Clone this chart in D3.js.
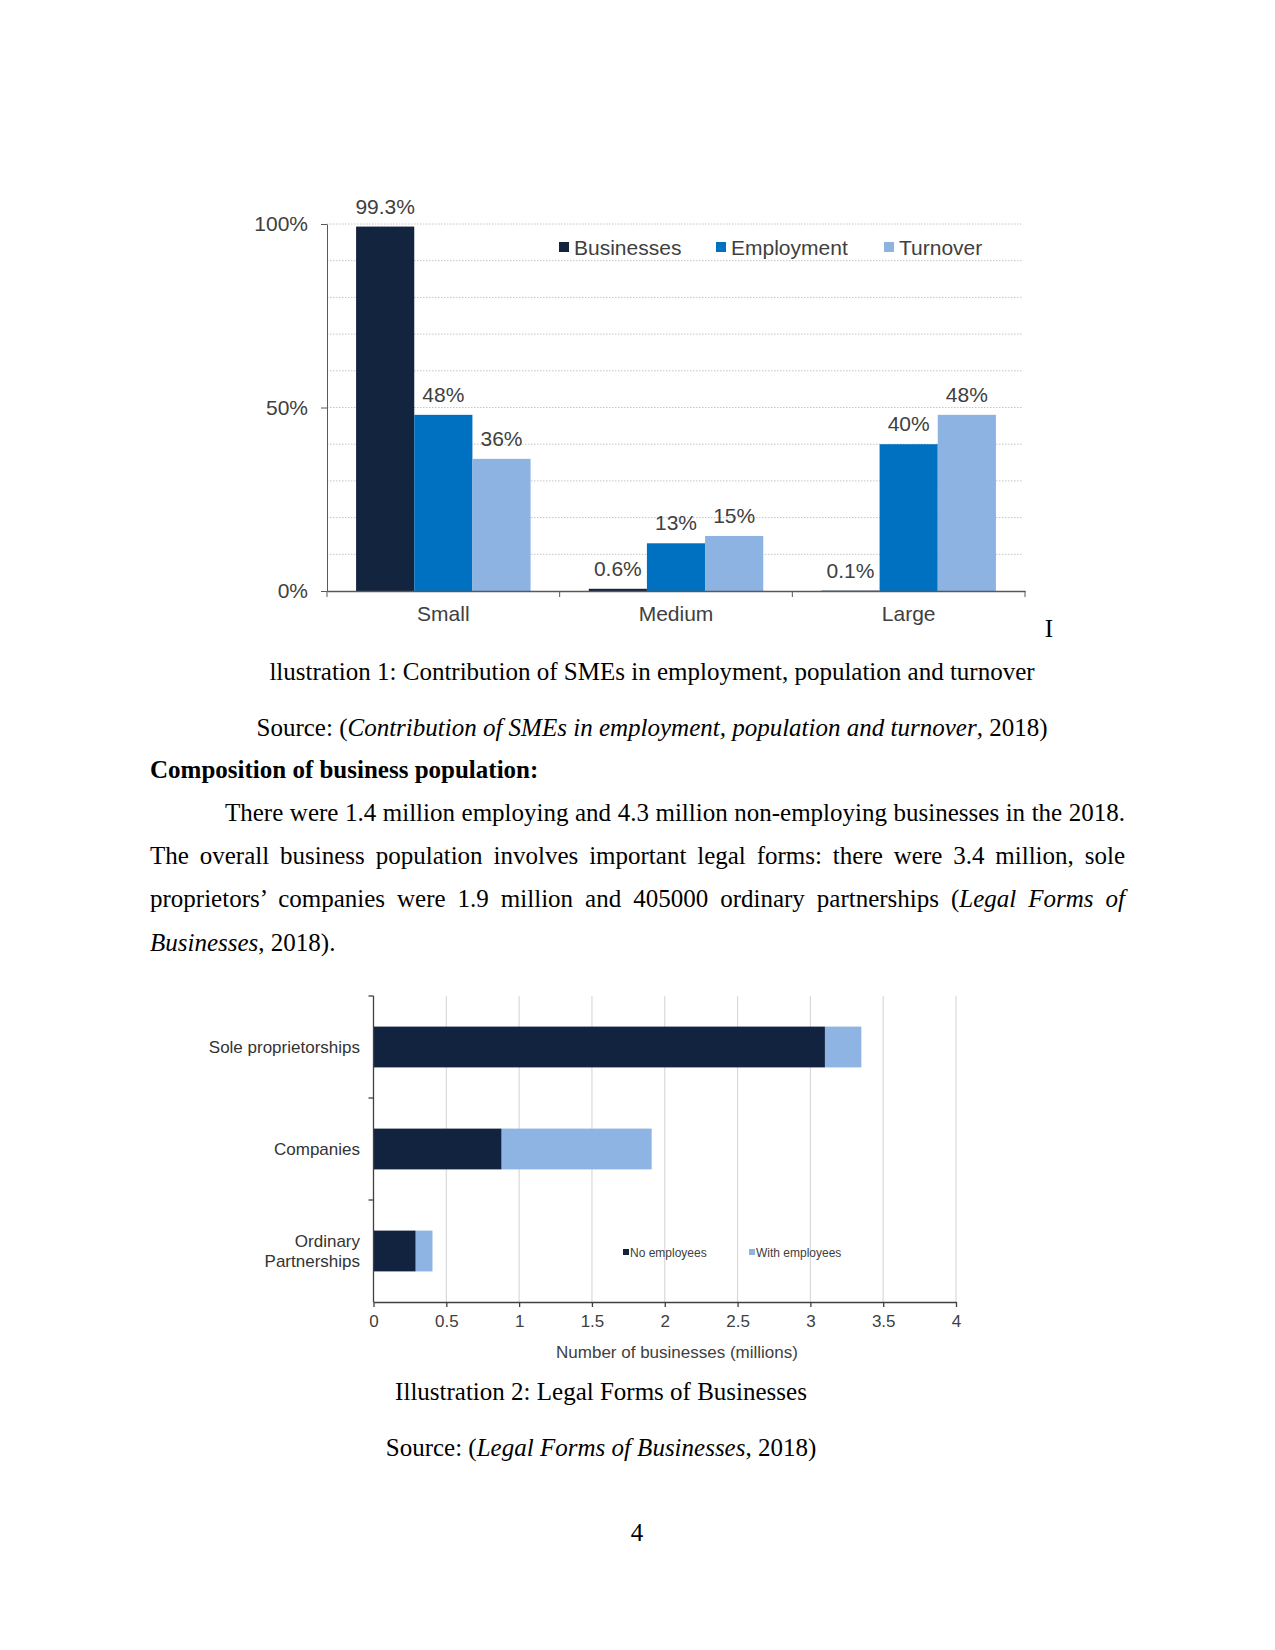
<!DOCTYPE html>
<html><head><meta charset="utf-8">
<script src="https://cdn.jsdelivr.net/npm/d3@7"></script>
<style>body{margin:0;background:#fff} svg{display:block}</style>
</head><body>
<svg id="page" width="1275" height="1650"></svg>
<script>
// ---------- Chart 1 data ----------
const categories1 = ["Small", "Medium", "Large"];
const series1 = ["Businesses", "Employment", "Turnover"];
const businessesShare = [99.3, 0.6, 0.1];
const employmentShare = [48, 13, 40];
const turnoverShare = [36, 15, 48];
const yTicks1 = [0, 50, 100];
const gridTicks1 = [10, 20, 30, 40, 50, 60, 70, 80, 90, 100];
const colors1 = ["#13243f", "#0070c0", "#8db3e2"];

// ---------- Chart 2 data ----------
const categories2 = ["Sole proprietorships", "Companies", "Ordinary Partnerships"];
const categoryLines2 = [["Sole proprietorships"], ["Companies"], ["Ordinary", "Partnerships"]];
const series2 = ["No employees", "With employees"];
const noEmployees = [3.1, 0.88, 0.29];
const withEmployees = [0.25, 1.03, 0.115];
const xTicks2 = [0, 0.5, 1, 1.5, 2, 2.5, 3, 3.5, 4];
const colors2 = ["#12233f", "#8db4e2"];

const svg = d3.select("#page");
const sans = "'Liberation Sans', Arial, sans-serif";
const serif = "'Liberation Serif', 'Times New Roman', serif";
const txt = "#404040";

// ================= Chart 1 =================
const y1 = d3.scaleLinear().domain([0, 100]).range([591, 224]);
const x1 = d3.scaleBand().domain(categories1).range([327, 1025]);
const xs1 = d3.scaleBand().domain(series1).range([0, x1.bandwidth()]).paddingOuter(0.5);
const g1 = svg.append("g");

g1.selectAll("line.grid").data(gridTicks1).join("line")
  .attr("x1", 327).attr("x2", 1023)
  .attr("y1", d => y1(d)).attr("y2", d => y1(d))
  .attr("stroke", "#c4c4c4").attr("stroke-width", 1).attr("stroke-dasharray", "1.5,1.5");

const values1 = [businessesShare, employmentShare, turnoverShare];
const bars1 = [];
series1.forEach((s, si) => categories1.forEach((c, ci) => bars1.push({ s, si, c, v: values1[si][ci] })));

g1.selectAll("rect.bar").data(bars1).join("rect")
  .attr("x", d => x1(d.c) + xs1(d.s))
  .attr("width", xs1.bandwidth())
  .attr("y", d => y1(d.v))
  .attr("height", d => y1(0) - y1(d.v))
  .attr("fill", d => colors1[d.si]);

g1.selectAll("text.val").data(bars1).join("text")
  .attr("x", d => x1(d.c) + xs1(d.s) + xs1.bandwidth() / 2)
  .attr("y", d => y1(d.v) - 13)
  .attr("text-anchor", "middle")
  .style("font-family", sans).style("font-size", "21px").attr("fill", txt)
  .text(d => d.v + "%");

// y axis
const ay1 = g1.append("g").attr("transform", "translate(327,0)")
  .call(d3.axisLeft(y1).tickValues(yTicks1).tickFormat(d => d + "%").tickSize(6).tickSizeOuter(0).tickPadding(13));
ay1.select(".domain").attr("stroke", "#595959");
ay1.selectAll(".tick line").attr("stroke", "#595959");
ay1.selectAll(".tick text").style("font-family", sans).style("font-size", "21px").attr("fill", txt);

// x axis
const ax1 = g1.append("g").attr("transform", "translate(0,591)")
  .call(d3.axisBottom(x1).tickSize(0).tickSizeOuter(0).tickPadding(15));
ax1.select(".domain").attr("stroke", "#595959").attr("stroke-width", 1.5);
ax1.selectAll(".tick text").style("font-family", sans).style("font-size", "21px").attr("fill", txt);
const bounds1 = categories1.map(c => x1(c)).concat([x1.range()[1]]);
g1.selectAll("line.xb").data(bounds1).join("line")
  .attr("x1", d => d).attr("x2", d => d).attr("y1", 591).attr("y2", 597)
  .attr("stroke", "#595959");

// legend
const legX1 = [559, 716, 884];
const leg1 = g1.selectAll("g.leg").data(series1).join("g")
  .attr("transform", (d, i) => `translate(${legX1[i]},247)`);
leg1.append("rect").attr("x", 0).attr("y", -5).attr("width", 10).attr("height", 10).attr("fill", (d, i) => colors1[i]);
leg1.append("text").attr("x", 15).attr("y", 7.5)
  .style("font-family", sans).style("font-size", "21px").attr("fill", txt).text(d => d);

// ================= Chart 2 =================
const x2 = d3.scaleLinear().domain([0, 4]).range([373.5, 956]);
const y2 = d3.scaleBand().domain(categories2).range([996, 1302]).paddingInner(0.6).paddingOuter(0.3);
const g2 = svg.append("g");

g2.selectAll("line.grid").data(xTicks2.slice(1)).join("line")
  .attr("x1", d => x2(d)).attr("x2", d => x2(d)).attr("y1", 996).attr("y2", 1302)
  .attr("stroke", "#d9d9d9").attr("stroke-width", 1.2);

const table2 = categories2.map((c, i) => ({ cat: c, "No employees": noEmployees[i], "With employees": withEmployees[i] }));
const stack2 = d3.stack().keys(series2)(table2);
g2.selectAll("g.ser").data(stack2).join("g").attr("fill", (d, i) => colors2[i])
  .selectAll("rect").data(d => d).join("rect")
  .attr("x", d => x2(d[0])).attr("width", d => x2(d[1]) - x2(d[0]))
  .attr("y", d => y2(d.data.cat)).attr("height", y2.bandwidth());

// y axis line and boundary ticks
g2.append("line").attr("x1", 373.5).attr("x2", 373.5).attr("y1", 996).attr("y2", 1302).attr("stroke", "#404040").attr("stroke-width", 1.3);
const bounds2 = categories2.map(c => y2(c) - y2.step() * y2.paddingInner() / 2);
g2.selectAll("line.yb").data(bounds2).join("line")
  .attr("x1", 368.5).attr("x2", 373.5).attr("y1", d => d).attr("y2", d => d).attr("stroke", "#404040").attr("stroke-width", 1.3);

// category labels
categories2.forEach((c, i) => {
  const lines = categoryLines2[i];
  const cy = y2(c) + y2.bandwidth() / 2;
  const t = g2.append("text").attr("text-anchor", "end")
    .style("font-family", sans).style("font-size", "17px").attr("fill", "#333");
  lines.forEach((l, li) => {
    t.append("tspan").attr("x", 360).attr("y", cy + 6 + (li - (lines.length - 1) / 2) * 20).text(l);
  });
});

// x axis
const ax2 = g2.append("g").attr("transform", "translate(0,1302)")
  .call(d3.axisBottom(x2).tickValues(xTicks2).tickFormat(d => d).tickSize(5).tickSizeOuter(0).tickPadding(8));
ax2.select(".domain").attr("stroke", "#404040").attr("stroke-width", 1.3);
ax2.selectAll(".tick line").attr("stroke", "#404040").attr("stroke-width", 1.3);
ax2.selectAll(".tick text").style("font-family", sans).style("font-size", "17px").attr("fill", txt);

g2.append("text").attr("x", 677).attr("y", 1358).attr("text-anchor", "middle")
  .style("font-family", sans).style("font-size", "17px").attr("fill", txt)
  .text("Number of businesses (millions)");

// legend
const legX2 = [623, 749];
const leg2 = g2.selectAll("g.leg").data(series2).join("g")
  .attr("transform", (d, i) => `translate(${legX2[i]},1252)`);
leg2.append("rect").attr("x", 0).attr("y", -3).attr("width", 6).attr("height", 6).attr("fill", (d, i) => colors2[i]);
leg2.append("text").attr("x", 7).attr("y", 4.5)
  .style("font-family", sans).style("font-size", "12px").attr("fill", txt).text(d => d);

// ================= Document text =================
function textLine(x, y, segs, opts = {}) {
  const t = svg.append("text").attr("x", x).attr("y", y)
    .attr("text-anchor", opts.anchor || "start")
    .style("font-family", serif).style("font-size", "25px").attr("fill", "#000")
    .style("font-weight", opts.bold ? "bold" : "normal");
  segs.forEach(s => t.append("tspan").style("font-style", s.i ? "italic" : "normal").text(s.t));
  if (opts.to) {
    const w = t.node().getComputedTextLength();
    const n = segs.map(s => s.t).join("").split(" ").length - 1;
    t.style("word-spacing", ((opts.to - x - w) / n) + "px");
  }
  return t;
}

textLine(1049, 637, [{ t: "I" }], { anchor: "middle" });
textLine(652, 680, [{ t: "llustration 1: Contribution of SMEs in employment, population and turnover" }], { anchor: "middle" });
textLine(652, 736, [{ t: "Source: (" }, { t: "Contribution of SMEs in employment, population and turnover", i: true }, { t: ", 2018)" }], { anchor: "middle" });
textLine(150, 778, [{ t: "Composition of business population:" }], { bold: true });
textLine(225, 821, [{ t: "There were 1.4 million employing and 4.3 million non-employing businesses in the 2018." }], { to: 1125 });
textLine(150, 864, [{ t: "The overall business population involves important legal forms: there were 3.4 million, sole" }], { to: 1125 });
textLine(150, 907, [{ t: "proprietors\u2019 companies were 1.9 million and 405000 ordinary partnerships (" }, { t: "Legal Forms of", i: true }], { to: 1125 });
textLine(150, 951, [{ t: "Businesses", i: true }, { t: ", 2018)." }]);
textLine(601, 1400, [{ t: "Illustration 2: Legal Forms of Businesses" }], { anchor: "middle" });
textLine(601, 1456, [{ t: "Source: (" }, { t: "Legal Forms of Businesses", i: true }, { t: ", 2018)" }], { anchor: "middle" });
textLine(637, 1541, [{ t: "4" }], { anchor: "middle" });
</script>
</body></html>
